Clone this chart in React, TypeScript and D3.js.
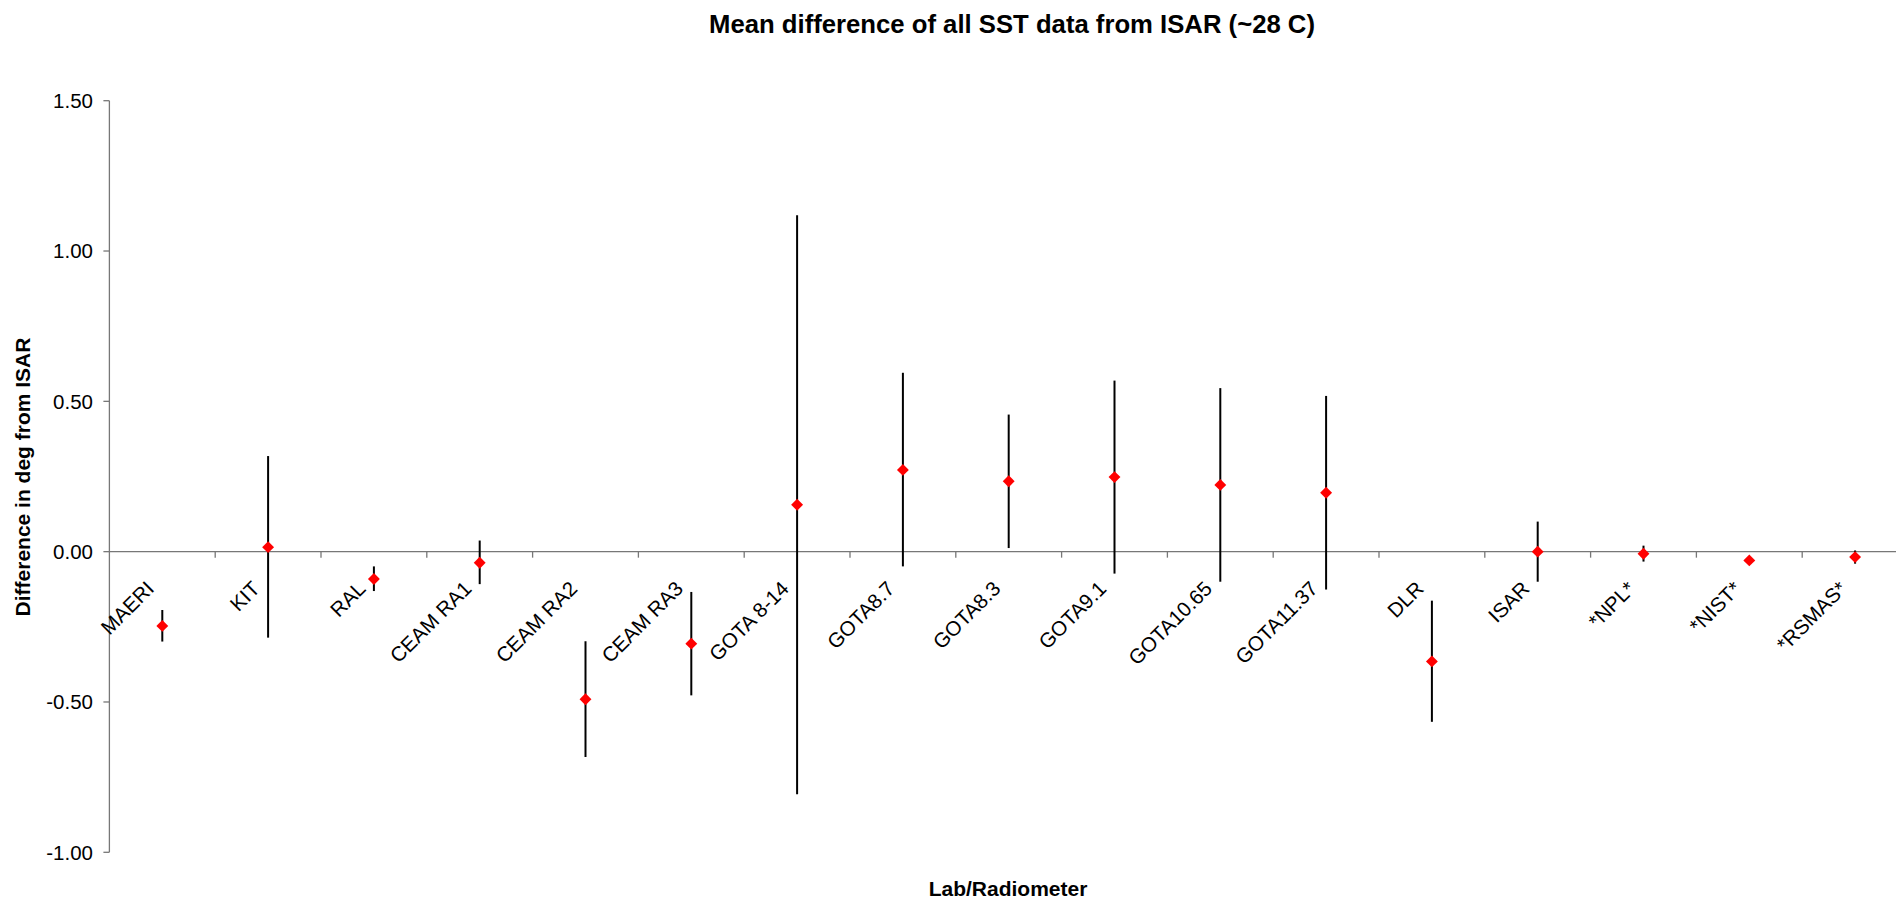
import * as d3 from "d3";
import { useEffect } from "react";

// lab / radiometer names along the x axis
const labs = [
  "MAERI", "KIT", "RAL", "CEAM RA1", "CEAM RA2", "CEAM RA3", "GOTA 8-14",
  "GOTA8.7", "GOTA8.3", "GOTA9.1", "GOTA10.65", "GOTA11.37", "DLR", "ISAR",
  "*NPL*", "*NIST*", "*RSMAS*",
];
// mean difference from ISAR (deg)
const meanDiff = [
  -0.247, 0.015, -0.091, -0.037, -0.491, -0.306, 0.156,
  0.272, 0.234, 0.248, 0.222, 0.196, -0.365, 0.0,
  -0.007, -0.029, -0.018,
];
// error bar ends
const errLow = [
  -0.299, -0.286, -0.131, -0.108, -0.683, -0.478, -0.807,
  -0.049, 0.012, -0.073, -0.1, -0.126, -0.566, -0.1,
  -0.033, -0.035, -0.04,
];
const errHigh = [
  -0.194, 0.318, -0.049, 0.037, -0.298, -0.134, 1.119,
  0.595, 0.456, 0.569, 0.544, 0.518, -0.163, 0.1,
  0.02, -0.023, 0.004,
];
const yTicks = [-1, -0.5, 0, 0.5, 1, 1.5];

const width = 1896;
const height = 899;
const left = 109.4;
const band = 105.8;

export default function App() {
  useEffect(() => {
    document.body.style.margin = "0";
  }, []);

  const x = d3.scaleBand().domain(labs).range([left, left + band * labs.length]);
  const y = d3.scaleLinear().domain([-1, 1.5]).range([852.3, 100.7]);
  const cx = (d: string) => (x(d) as number) + x.bandwidth() / 2;
  const diamond = d3.symbol().type(d3.symbolDiamond2).size(90)();
  const axisColor = "#777";
  const font = "Arial, 'Liberation Sans', sans-serif";

  return (
    <svg width={width} height={height} style={{ display: "block", fontFamily: font }}>
      <rect width={width} height={height} fill="#fff" />
      <text x={1012} y={33} textAnchor="middle" fontSize={25.7} fontWeight="bold">
        Mean difference of all SST data from ISAR (~28 C)
      </text>
      <text
        transform={`translate(30,477) rotate(-90)`}
        textAnchor="middle"
        fontSize={21}
        fontWeight="bold"
      >
        Difference in deg from ISAR
      </text>
      <text x={1008} y={896} textAnchor="middle" fontSize={21} fontWeight="bold">
        Lab/Radiometer
      </text>

      {/* y axis */}
      <line x1={left} x2={left} y1={y(1.5)} y2={y(-1)} stroke={axisColor} strokeWidth={1.3} />
      {yTicks.map((t) => (
        <g key={t}>
          <line x1={left - 6} x2={left} y1={y(t)} y2={y(t)} stroke={axisColor} strokeWidth={1.3} />
          <text x={93} y={y(t)} dy="0.36em" textAnchor="end" fontSize={20.5}>
            {t.toFixed(2)}
          </text>
        </g>
      ))}

      {/* x axis at zero */}
      <line x1={left} x2={width} y1={y(0)} y2={y(0)} stroke={axisColor} strokeWidth={1.3} />
      {labs.map((d) => (
        <line
          key={"t" + d}
          x1={(x(d) as number) + band}
          x2={(x(d) as number) + band}
          y1={y(0)}
          y2={y(0) + 6}
          stroke={axisColor}
          strokeWidth={1.3}
        />
      ))}
      {labs.map((d) => (
        <text
          key={"l" + d}
          transform={`translate(${cx(d) - 7},590) rotate(-45)`}
          textAnchor="end"
          fontSize={20.5}
        >
          {d}
        </text>
      ))}

      {/* error bars */}
      {labs.map((d, i) => (
        <line
          key={"e" + d}
          x1={cx(d)}
          x2={cx(d)}
          y1={y(errLow[i])}
          y2={y(errHigh[i])}
          stroke="#000"
          strokeWidth={2}
        />
      ))}
      {/* means */}
      {labs.map((d, i) => (
        <path
          key={"m" + d}
          d={diamond as string}
          transform={`translate(${cx(d)},${y(meanDiff[i])})`}
          fill="#ff0000"
        />
      ))}
    </svg>
  );
}
